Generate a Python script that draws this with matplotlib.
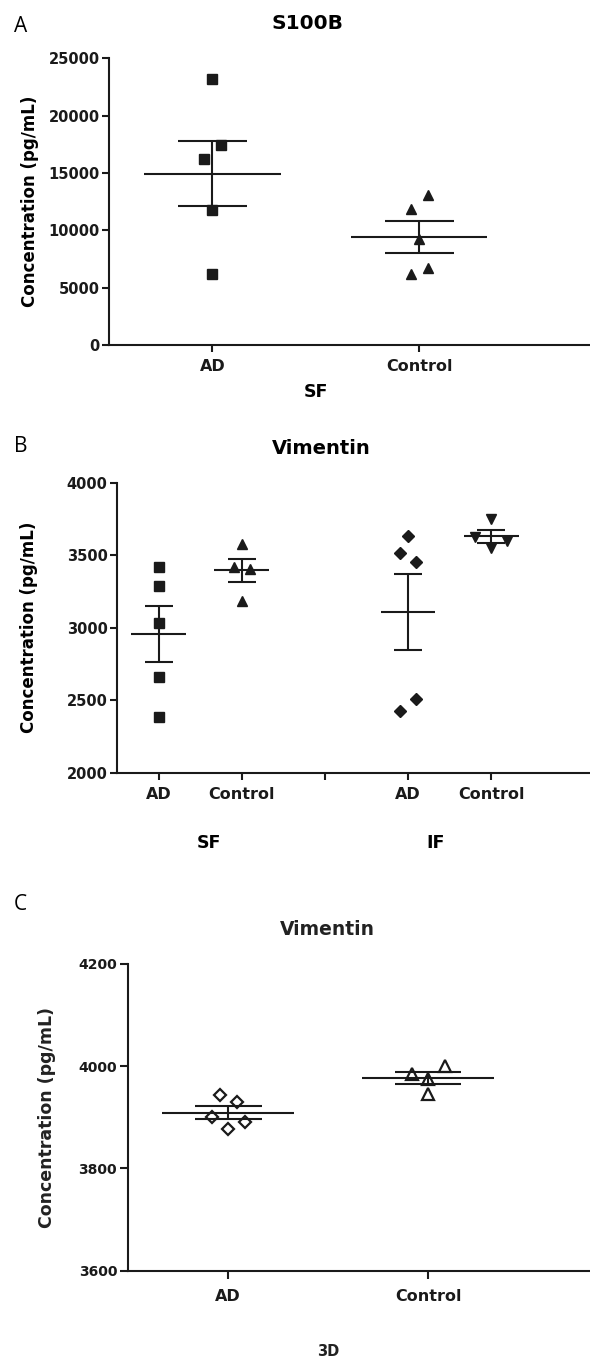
import numpy as np
import matplotlib
matplotlib.use("Agg")
import matplotlib.pyplot as plt

W, H = 590, 1359
INK = "#1a1a1a"

# Panel A - S100B, SF
s100b_groups = ["AD", "Control"]
s100b_ad = [23170, 17440, 16220, 11770, 6165]
s100b_ctrl = [13080, 11830, 9243, 6740, 6165]
# sideways spread of points that would overlap (category units)
s100b_ad_dx = [0, 0.042, -0.042, 0, 0]
s100b_ctrl_dx = [0.042, -0.042, 0, 0.042, -0.042]

# Panel B - Vimentin, SF and IF
vim_groups = ["AD", "Control", "", "AD", "Control"]
vim_sf_ad = [3416, 3290, 3030, 2662, 2386]
vim_sf_ctrl = [3577, 3418, 3405, 3184]
vim_if_ad = [3632, 3517, 3451, 2506, 2427]
vim_if_ctrl = [3747, 3623, 3600, 3547]
vim_sf_ad_dx = [0, 0, 0, 0, 0]
vim_sf_ctrl_dx = [0, -0.1, 0.1, 0]
vim_if_ad_dx = [0, -0.1, 0.1, 0.1, -0.1]
vim_if_ctrl_dx = [0, -0.19, 0.19, 0]

# Panel C - Vimentin, 3D
vim3d_groups = ["AD", "Control"]
vim3d_ad = [3944, 3931, 3901, 3891, 3878]
vim3d_ctrl = [4001, 3984, 3976, 3945]
vim3d_ad_dx = [-0.042, 0.042, -0.083, 0.083, 0]
vim3d_ctrl_dx = [0.083, -0.083, 0, 0]

plt.rcParams["font.family"] = ["DejaVu Sans"]
plt.rcParams["font.weight"] = "bold"

fig = plt.figure(figsize=(W / 100, H / 100), dpi=100)


def add_axes_px(left, top, right, bottom):
    return fig.add_axes([left / W, 1 - bottom / H, (right - left) / W, (bottom - top) / H])


def mean_sem(vals):
    v = np.asarray(vals, dtype=float)
    return v.mean(), v.std(ddof=1) / np.sqrt(len(v))


def draw_group(ax, x, vals, dx, marker, ms, filled=True, lw=1.5):
    xs = x + np.asarray(dx)
    ax.plot(xs, vals, linestyle="none", marker=marker, ms=ms,
            mfc=INK if filled else "none", mec=INK, mew=1.0 if filled else 1.6,
            zorder=3, clip_on=False)
    m, s = mean_sem(vals)
    ax.hlines(m, x - 0.33, x + 0.33, color=INK, lw=lw, zorder=2)
    ax.hlines([m - s, m + s], x - 0.167, x + 0.167, color=INK, lw=lw, zorder=2)
    ax.vlines(x, m - s, m + s, color=INK, lw=lw, zorder=2)


def style_axes(ax, xsize, ysize, xpad, ypad, tick_len=5):
    for side in ("top", "right"):
        ax.spines[side].set_visible(False)
    for side in ("left", "bottom"):
        ax.spines[side].set_linewidth(1.5)
        ax.spines[side].set_color(INK)
    ax.tick_params(axis="both", direction="out", length=tick_len, width=1.5, colors=INK)
    ax.tick_params(axis="x", pad=xpad, labelsize=xsize)
    ax.tick_params(axis="y", pad=ypad, labelsize=ysize)
    for lab in ax.get_xticklabels() + ax.get_yticklabels():
        lab.set_fontweight("bold")


# ---------------- Panel A ----------------
axA = add_axes_px(109, 58.3, 590, 345)
draw_group(axA, 0, s100b_ad, s100b_ad_dx, "s", 7)
draw_group(axA, 1, s100b_ctrl, s100b_ctrl_dx, "^", 7.5)
axA.set_xlim(-0.5, 1.826)
axA.set_ylim(0, 25000)
axA.set_yticks(range(0, 25001, 5000))
axA.set_xticks(range(len(s100b_groups)))
axA.set_xticklabels(s100b_groups)
style_axes(axA, 11.5, 10.5, 5, 1.5)
axA.text(0.46, 1.122, "S100B", transform=axA.get_xaxis_transform(),
         ha="center", va="center", fontsize=14.5, fontweight="bold")
axA.text(0.5, -0.163, "SF", transform=axA.get_xaxis_transform(),
         ha="center", va="center", fontsize=12.5, fontweight="bold")
axA.text(-0.164, 0.5, "Concentration (pg/mL)", transform=axA.transAxes,
         rotation=90, ha="center", va="center", fontsize=12, fontweight="bold")

# ---------------- Panel B ----------------
axB = add_axes_px(117.3, 482.7, 590, 772.7)
draw_group(axB, 0, vim_sf_ad, vim_sf_ad_dx, "s", 7)
draw_group(axB, 1, vim_sf_ctrl, vim_sf_ctrl_dx, "^", 7.5)
draw_group(axB, 3, vim_if_ad, vim_if_ad_dx, "D", 6)
draw_group(axB, 4, vim_if_ctrl, vim_if_ctrl_dx, "v", 7.5)
axB.set_xlim(-0.5, 5.19)
axB.set_ylim(2000, 4000)
axB.set_yticks(range(2000, 4001, 500))
axB.set_xticks(range(len(vim_groups)))
axB.set_xticklabels(vim_groups)
style_axes(axB, 11.5, 10.5, 5, 2)
axB.text(1.95, 1.119, "Vimentin", transform=axB.get_xaxis_transform(),
         ha="center", va="center", fontsize=14, fontweight="bold")
axB.text(0.6, -0.242, "SF", transform=axB.get_xaxis_transform(),
         ha="center", va="center", fontsize=12.5, fontweight="bold")
axB.text(3.33, -0.242, "IF", transform=axB.get_xaxis_transform(),
         ha="center", va="center", fontsize=12.5, fontweight="bold")
axB.text(-0.186, 0.5, "Concentration (pg/mL)", transform=axB.transAxes,
         rotation=90, ha="center", va="center", fontsize=12, fontweight="bold")

# ---------------- Panel C ----------------
axC = add_axes_px(128.3, 964, 590, 1270.7)
draw_group(axC, 0, vim3d_ad, vim3d_ad_dx, "D", 6, filled=False)
draw_group(axC, 1, vim3d_ctrl, vim3d_ctrl_dx, "^", 8, filled=False)
axC.set_xlim(-0.5, 1.81)
axC.set_ylim(3600, 4200)
axC.set_yticks(range(3600, 4201, 200))
axC.set_xticks(range(len(vim3d_groups)))
axC.set_xticklabels(vim3d_groups)
style_axes(axC, 11.5, 10, 8, 2.5, tick_len=5.5)
axC.text(0.495, 1.111, "Vimentin", transform=axC.get_xaxis_transform(),
         ha="center", va="center", fontsize=13.5, fontweight="bold", color="#222222")
axC.text(0.5, -0.264, "3D", transform=axC.get_xaxis_transform(),
         ha="center", va="center", fontsize=10.5, fontweight="bold", color="#222222")
axC.text(-0.177, 0.5, "Concentration (pg/mL)", transform=axC.transAxes,
         rotation=90, ha="center", va="center", fontsize=12.5, fontweight="bold",
         color="#222222")

# panel letters
for letter, (px, py) in zip("ABC", [(20.7, 26.7), (20.7, 446.7), (20.7, 905)]):
    fig.text(px / W, 1 - py / H, letter, ha="center", va="center",
             fontsize=15, fontweight="normal", family=["Open Sans", "DejaVu Sans"])

fig.savefig("out.png", dpi=100)
